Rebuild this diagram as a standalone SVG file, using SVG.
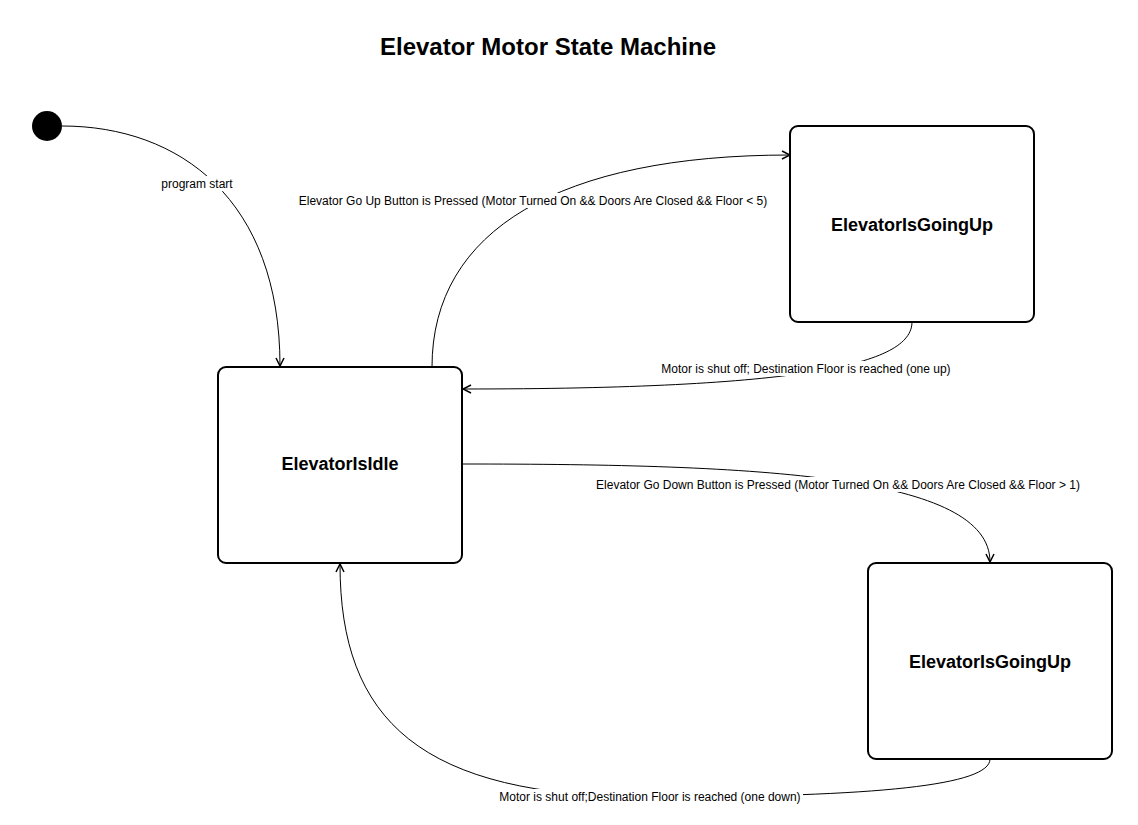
<svg xmlns="http://www.w3.org/2000/svg" width="1138" height="825" viewBox="0 0 1138 825">
<style>
.state{fill:#fff;stroke:#000;stroke-width:2}
.name{font-family:"Liberation Sans",Arial,sans-serif;font-weight:bold;font-size:18px;text-anchor:middle;fill:#000}
.title{font-family:"Liberation Sans",Arial,sans-serif;font-weight:bold;font-size:24px;text-anchor:middle;fill:#000}
.edge{fill:none;stroke:#000;stroke-width:1;marker-end:url(#arr)}
.lbl{font-family:"Liberation Sans",Arial,sans-serif;font-size:12px;text-anchor:middle;fill:#000}
.bg{fill:#fff}
</style>
<defs>
<marker id="arr" viewBox="0 0 10 10" refX="9" refY="5" markerWidth="10" markerHeight="10" markerUnits="userSpaceOnUse" orient="auto">
<path d="M1,1 L9,5 L1,9" fill="none" stroke="#000" stroke-width="1.5"/>
</marker>
</defs>
<rect width="1138" height="825" fill="#fff"/>
<text class="title" x="548" y="55">Elevator Motor State Machine</text>
<g id="connectors">
<g id="e-start">
<path class="edge" d="M62,126 C180,126 280,200 280,366"/>
<rect class="bg" x="158" y="176" width="78" height="15"/>
<text class="lbl" x="197" y="188">program start</text>
</g>
<g id="e-up">
<path class="edge" d="M432,367 C432,230 560,155 790,155"/>
<rect class="bg" x="296" y="193" width="475" height="15"/>
<text class="lbl" x="533" y="205">Elevator Go Up Button is Pressed (Motor Turned On &amp;&amp; Doors Are Closed &amp;&amp; Floor &lt; 5)</text>
</g>
<g id="e-upstop">
<path class="edge" d="M912,322 C912,365 800,389 463,389"/>
<rect class="bg" x="658" y="361" width="297" height="15"/>
<text class="lbl" x="806" y="373">Motor is shut off; Destination Floor is reached (one up)</text>
</g>
<g id="e-down">
<path class="edge" d="M462,464 C760,464 990,475 990,562"/>
<rect class="bg" x="592" y="477" width="492" height="15"/>
<text class="lbl" x="838" y="489">Elevator Go Down Button is Pressed (Motor Turned On &amp;&amp; Doors Are Closed &amp;&amp; Floor &gt; 1)</text>
</g>
<g id="e-downstop">
<path class="edge" d="M990,759 C990,785 880,797 650,797 C420,797 340,720 340,564"/>
<rect class="bg" x="497" y="789" width="306" height="15"/>
<text class="lbl" x="650" y="801">Motor is shut off;Destination Floor is reached (one down)</text>
</g>
</g>
<g id="start">
<circle cx="47" cy="126" r="15" fill="#000"/>
</g>
<g id="idle">
<rect class="state" x="218" y="367" width="244" height="196" rx="8"/>
<text class="name" x="340" y="470">ElevatorIsIdle</text>
</g>
<g id="goingup">
<rect class="state" x="790" y="126" width="244" height="196" rx="8"/>
<text class="name" x="912" y="231">ElevatorIsGoingUp</text>
</g>
<g id="goingdown">
<rect class="state" x="868" y="563" width="244" height="196" rx="8"/>
<text class="name" x="990" y="668">ElevatorIsGoingUp</text>
</g>
</svg>
